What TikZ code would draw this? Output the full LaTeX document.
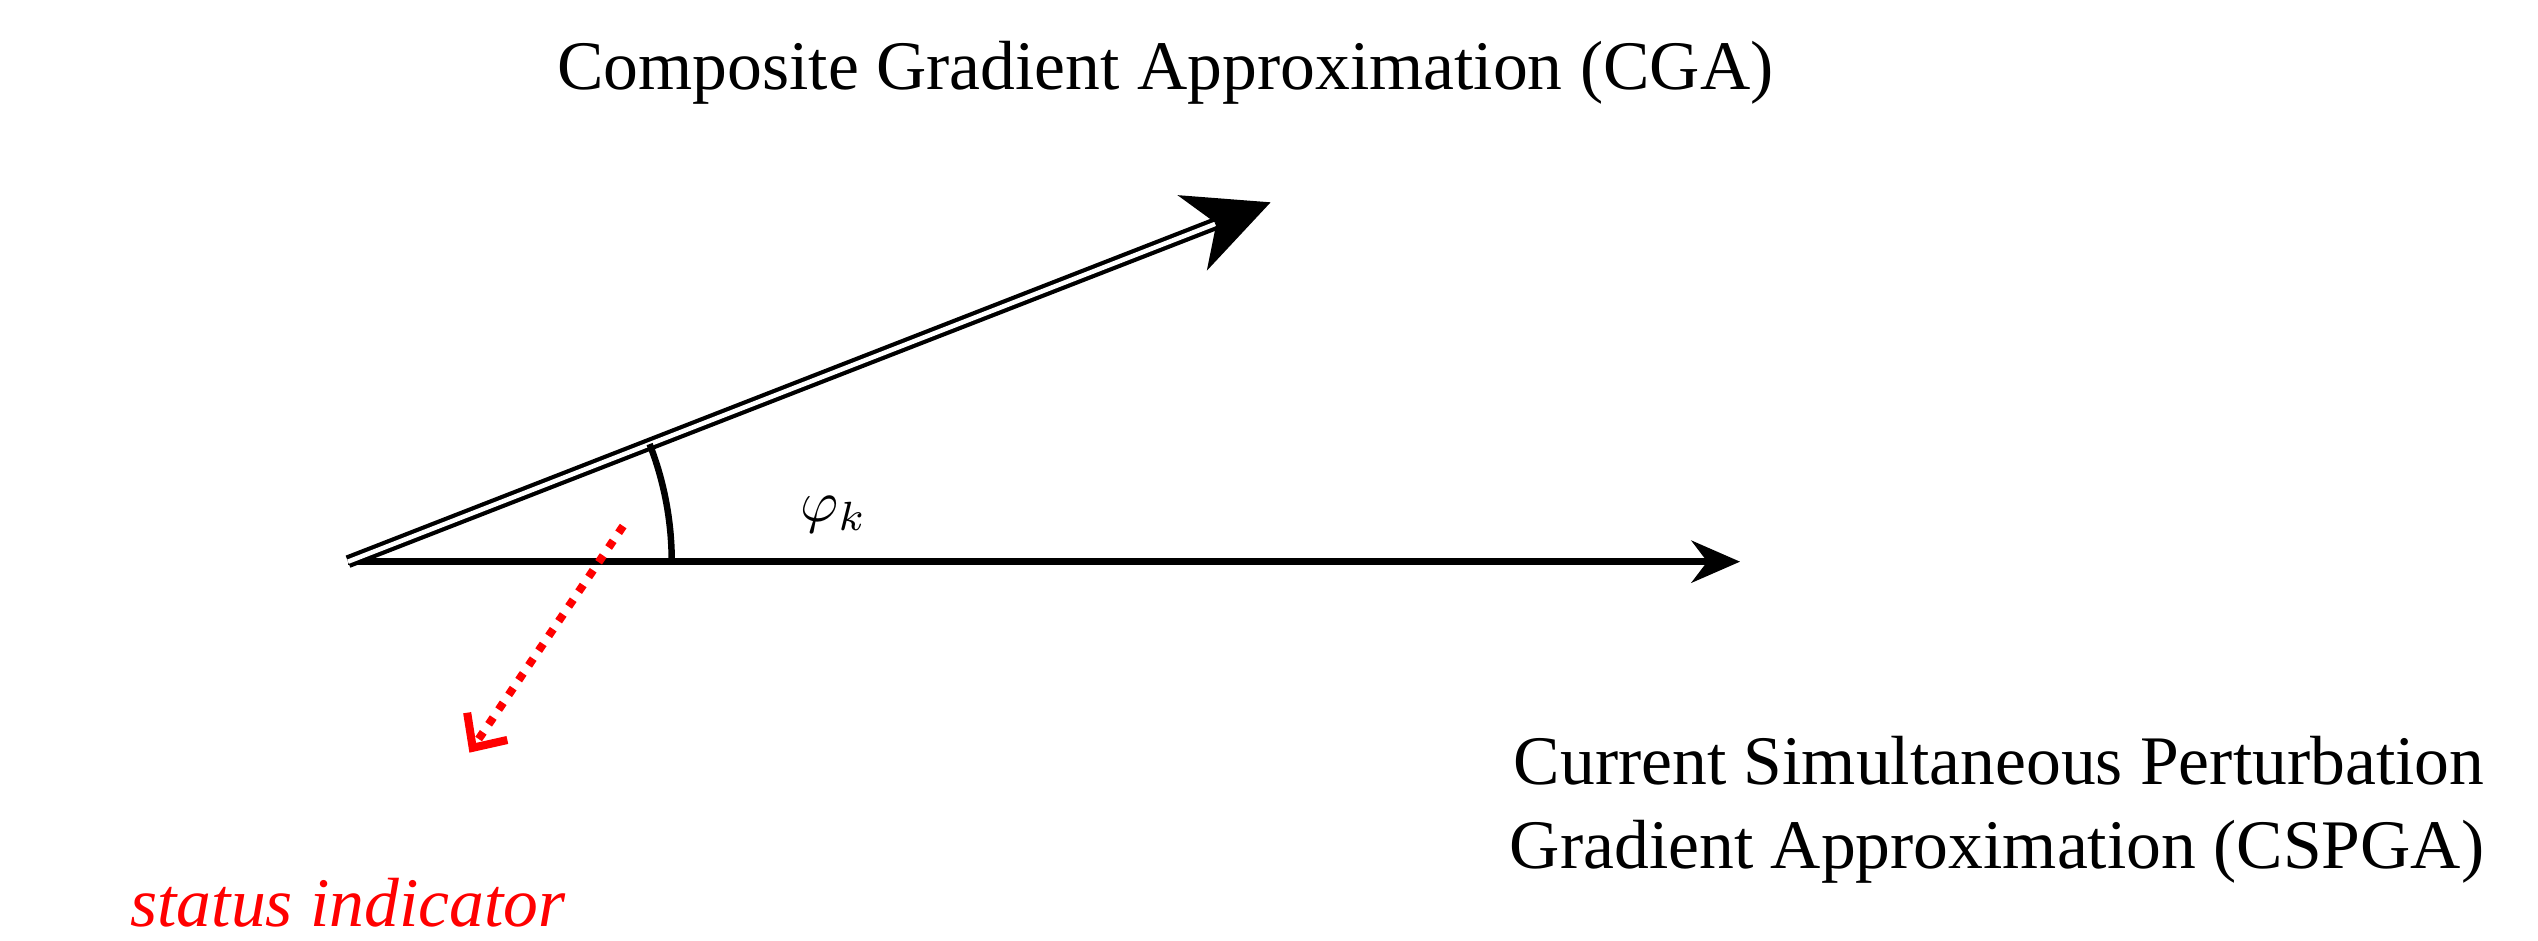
\documentclass[tikz,border=0pt]{standalone}
\usepackage{fontspec}
\setmainfont{Liberation Serif}
\usetikzlibrary{arrows.meta,calc}
\begin{document}
\begin{tikzpicture}[x=1pt,y=-1pt,
  lbl/.style={font=\fontsize{43}{54}\selectfont, inner sep=0pt},
  redtxt/.style={lbl, text=red, font=\fontsize{43}{54}\selectfont\itshape}]
\useasboundingbox (0,0) rectangle (1568,581);
\coordinate (O) at (215,347);
\coordinate (H) at (1075,347);
\coordinate (C) at (785,125);
\coordinate (Cm) at ($(O)!0.94!(C)$);
% horizontal arrow
\draw[line width=4pt, -{Stealth[length=30pt,width=26pt]}] (O) -- (H);
% double CGA arrow
\draw[line width=2.6pt, double=white, double distance=2.8pt] (O) -- (Cm);
\draw[line width=1pt, -{Stealth[length=52pt,width=50pt,inset=16pt]}] (Cm) -- (C);
% angle arc
\draw[line width=4pt] (415,347) arc[start angle=0, end angle=-21.3, radius=200];
\node[inner sep=0pt, scale=3.6] (phi) at (515,318) {$\varphi_k$};
% red dotted arrow
\coordinate (R1) at (385,325);
\coordinate (R2) at (290,465);
\draw[red, line width=5pt, dash pattern=on 5pt off 6pt, -{Straight Barb[length=16pt,width=30pt,line width=5pt]}] (R1) -- (R2);
\node[redtxt] (st) at (215,558) {status indicator};
% texts
\node[lbl] (cga) at (720,45) {Composite Gradient Approximation (CGA)};
\node[lbl, anchor=east] (l1) at (1535,470) {Current Simultaneous Perturbation};
\node[lbl, anchor=east] (l2) at (1535,526) {Gradient Approximation (CSPGA)};
\end{tikzpicture}
\end{document}
